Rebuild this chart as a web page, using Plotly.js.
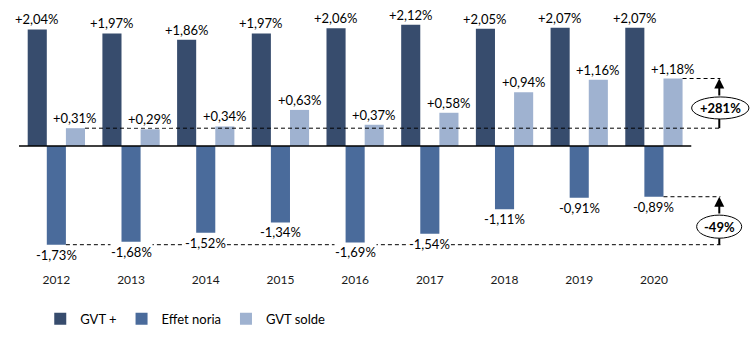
<!DOCTYPE html>
<html>
<head>
<meta charset="utf-8">
<script src="https://cdn.plot.ly/plotly-3.0.1.min.js"></script>
<style>
  html, body { margin: 0; padding: 0; background: #ffffff; }
  #chart { width: 756px; height: 338px; }
</style>
</head>
<body>
<div id="chart"></div>
<script>
// ---- Data ----
const years = ['2012', '2013', '2014', '2015', '2016', '2017', '2018', '2019', '2020'];
const gvtPlus = [2.04, 1.97, 1.86, 1.97, 2.06, 2.12, 2.05, 2.07, 2.07];
const effetNoria = [-1.73, -1.68, -1.52, -1.34, -1.69, -1.54, -1.11, -0.91, -0.89];
const gvtSolde = [0.31, 0.29, 0.34, 0.63, 0.37, 0.58, 0.94, 1.16, 1.18];
const seriesNames = ['GVT +', 'Effet noria', 'GVT solde'];

// ---- Style ----
const colors = ['#374c6d', '#4a6b9b', '#9fb2d0'];
const FONT = 'Lato, "Open Sans", "DejaVu Sans", sans-serif';
const BARGAP = 0.233;
const barUnits = (1 - BARGAP) / 3;

const idx = years.map((_, i) => i);
const fmt = v => (v > 0 ? '+' : '') + v.toFixed(2).replace('.', ',') + '%';

const allSeries = [gvtPlus, effetNoria, gvtSolde];

const traces = allSeries.map((vals, k) => ({
  type: 'bar',
  name: seriesNames[k],
  x: idx,
  y: vals,
  marker: { color: colors[k], line: { width: 0 } },
  hoverinfo: 'skip'
}));

// Data labels as annotations (white background hides the dashed guide lines like the reference)
const annotations = [];
allSeries.forEach((vals, k) => {
  vals.forEach((v, i) => {
    annotations.push({
      xref: 'x', yref: 'y',
      x: i + (k - 1) * barUnits,
      y: v,
      text: fmt(v),
      showarrow: false,
      xanchor: 'center',
      yanchor: v >= 0 ? 'bottom' : 'top',
      yshift: v >= 0 ? 1 : -1,
      bgcolor: '#ffffff',
      borderpad: 0,
      font: { family: FONT, size: 13, color: '#000000' }
    });
  });
});

const last = years.length - 1;
const arrowX = 8.875;
const lineEnd = 8.89;

// Percentage changes computed from data
const soldeChange = Math.round((gvtSolde[last] - gvtSolde[0]) / gvtSolde[0] * 100);
const noriaChange = Math.round((Math.abs(effetNoria[last]) - Math.abs(effetNoria[0])) / Math.abs(effetNoria[0]) * 100);
const pct = v => (v > 0 ? '+' : '') + v + '%';

// ellipse geometry (decorations)
const ell1 = { x0: 8.505, x1: 9.272, y0: 0.471, y1: 0.857 };
const ell2 = { x0: 8.572, x1: 9.175, y0: -1.616, y1: -1.212 };

const dash = { color: '#000000', width: 1, dash: '4px,3px' };
const shapes = [
  // zero line
  { type: 'line', xref: 'x', yref: 'y', x0: -0.5, x1: years.length - 0.5, y0: 0, y1: 0,
    line: { color: '#000000', width: 1.5 }, layer: 'above' },
  // dashed guides, GVT solde
  { type: 'line', xref: 'x', yref: 'y', x0: 0 + 1.5 * barUnits, x1: lineEnd, y0: gvtSolde[0], y1: gvtSolde[0], line: dash, layer: 'above' },
  { type: 'line', xref: 'x', yref: 'y', x0: last + 1.5 * barUnits, x1: lineEnd, y0: gvtSolde[last], y1: gvtSolde[last], line: dash, layer: 'above' },
  // dashed guides, Effet noria
  { type: 'line', xref: 'x', yref: 'y', x0: 0 + 0.5 * barUnits, x1: lineEnd, y0: effetNoria[0], y1: effetNoria[0], line: dash, layer: 'above' },
  { type: 'line', xref: 'x', yref: 'y', x0: last + 0.5 * barUnits, x1: lineEnd, y0: effetNoria[last], y1: effetNoria[last], line: dash, layer: 'above' },
  // lower stems of arrows
  { type: 'line', xref: 'x', yref: 'y', x0: arrowX, x1: arrowX, y0: gvtSolde[0], y1: ell1.y0,
    line: { color: '#000000', width: 2 }, layer: 'above' },
  { type: 'line', xref: 'x', yref: 'y', x0: arrowX, x1: arrowX, y0: effetNoria[0], y1: ell2.y0,
    line: { color: '#000000', width: 2 }, layer: 'above' },
  // ellipses
  Object.assign({ type: 'circle', xref: 'x', yref: 'y', fillcolor: '#ffffff',
    line: { color: '#000000', width: 1 }, layer: 'above' }, ell1),
  Object.assign({ type: 'circle', xref: 'x', yref: 'y', fillcolor: '#ffffff',
    line: { color: '#000000', width: 1 }, layer: 'above' }, ell2)
];

// arrows
annotations.push({
  xref: 'x', yref: 'y', x: arrowX, y: gvtSolde[last],
  axref: 'x', ayref: 'y', ax: arrowX, ay: ell1.y1,
  text: '', showarrow: true, arrowhead: 2, arrowsize: 1, arrowwidth: 2, arrowcolor: '#000000'
});
annotations.push({
  xref: 'x', yref: 'y', x: arrowX, y: effetNoria[last],
  axref: 'x', ayref: 'y', ax: arrowX, ay: ell2.y1,
  text: '', showarrow: true, arrowhead: 2, arrowsize: 1, arrowwidth: 2, arrowcolor: '#000000'
});
// ellipse texts
annotations.push({
  xref: 'x', yref: 'y', x: (ell1.x0 + ell1.x1) / 2, y: (ell1.y0 + ell1.y1) / 2,
  text: '<b>' + pct(soldeChange) + '</b>', showarrow: false,
  font: { family: FONT, size: 13, color: '#000000' }
});
annotations.push({
  xref: 'x', yref: 'y', x: (ell2.x0 + ell2.x1) / 2, y: (ell2.y0 + ell2.y1) / 2,
  text: '<b>' + pct(noriaChange) + '</b>', showarrow: false,
  font: { family: FONT, size: 13, color: '#000000' }
});

const layout = {
  width: 756,
  height: 338,
  margin: { l: 19, r: 4, t: 10, b: 66 },
  paper_bgcolor: '#ffffff',
  plot_bgcolor: '#ffffff',
  font: { family: FONT, size: 13, color: '#000000' },
  barmode: 'group',
  bargap: BARGAP,
  bargroupgap: 0,
  showlegend: true,
  legend: {
    orientation: 'h',
    x: 0.029, xanchor: 'left',
    y: -0.197, yanchor: 'middle',
    font: { family: FONT, size: 13, color: '#000000' },
    bgcolor: 'rgba(0,0,0,0)',
    traceorder: 'normal'
  },
  xaxis: {
    range: [-0.5, 9.313],
    tickmode: 'array',
    tickvals: idx,
    ticktext: years,
    showgrid: false,
    zeroline: false,
    showline: false,
    ticks: '',
    ticklabelstandoff: 3,
    tickfont: { family: FONT, size: 12, color: '#1a1a1a' },
    fixedrange: true
  },
  yaxis: {
    range: [-2.1379, 2.3793],
    visible: false,
    showgrid: false,
    zeroline: false,
    fixedrange: true
  },
  shapes: shapes,
  annotations: annotations
};

Plotly.newPlot('chart', traces, layout, { displayModeBar: false, staticPlot: true });
</script>
</body>
</html>
